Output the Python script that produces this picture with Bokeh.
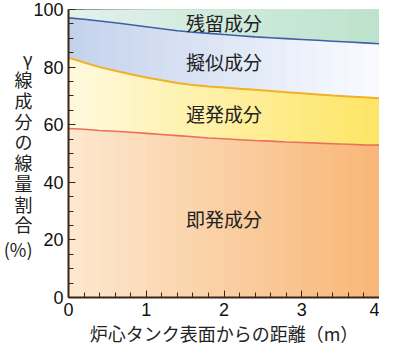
from bokeh.plotting import figure
from bokeh.models import Range1d, SingleIntervalTicker, Label, LinearAxis, FixedTicker
from bokeh.embed import file_html
from bokeh.resources import INLINE

# ---- data ----
distance = [0.0, 0.2, 0.4, 0.6, 0.8, 1.0, 1.2, 1.4, 1.6, 1.8, 2.0,
            2.2, 2.4, 2.6, 2.8, 3.0, 3.2, 3.4, 3.6, 3.8, 4.0]
# cumulative upper boundaries (%)
prompt_top = [58.7, 58.4, 58.0, 57.7, 57.4, 57.0, 56.6, 56.2, 55.8, 55.4, 55.1,
              54.8, 54.5, 54.3, 54.0, 53.8, 53.6, 53.4, 53.2, 53.0, 52.9]
delayed_top = [83.3, 81.6, 80.0, 78.7, 77.5, 76.4, 75.4, 74.5, 73.8, 73.3, 72.9,
               72.5, 72.1, 71.7, 71.3, 70.9, 70.5, 70.1, 69.8, 69.5, 69.2]
pseudo_top = [97.1, 96.6, 96.0, 95.4, 94.7, 94.0, 93.3, 92.6, 92.1, 91.7, 91.3,
              90.9, 90.5, 90.2, 89.9, 89.6, 89.3, 89.0, 88.7, 88.4, 88.1]
total_top = [100.0, 100.0, 100.0, 100.0, 100.0, 100.0, 100.0, 100.0, 100.0, 100.0, 100.0,
             100.0, 100.0, 100.0, 100.0, 100.0, 100.0, 100.0, 100.0, 100.0, 100.0]
bottom = [0.0] * len(distance)

component_names = ["即発成分", "遅発成分", "擬似成分", "残留成分"]
y_title_parts = ["γ", "線", "成", "分", "の", "線", "量", "割", "合", "(%)"]
x_title = "炉心タンク表面からの距離（m）"

# ---- figure ----
p = figure(width=379, height=348, output_backend="svg", toolbar_location=None,
           x_range=Range1d(0, 4), y_range=Range1d(0, 100),
           min_border_left=10, min_border_right=0, min_border_top=9, min_border_bottom=0)
p.background_fill_color = "white"
p.border_fill_color = "white"
p.outline_line_color = "#555555"
p.outline_line_width = 1
p.grid.visible = False


def mix(c1, c2, t):
    return "#%02x%02x%02x" % tuple(int(round(a + (b - a) * t)) for a, b in zip(c1, c2))


layers = [
    (bottom, prompt_top, (253, 232, 208), (248, 182, 118)),
    (prompt_top, delayed_top, (255, 250, 222), (253, 229, 100)),
    (delayed_top, pseudo_top, (195, 210, 236), (250, 251, 255)),
    (pseudo_top, total_top, (226, 242, 236), (189, 226, 204)),
]
n = len(distance)
for lower, upper, cl, cr in layers:
    for i in range(n - 1):
        t = (i + 0.5) / (n - 1)
        p.varea(x=distance[i:], y1=lower[i:], y2=upper[i:], fill_color=mix(cl, cr, t))

p.line(distance, prompt_top, line_color="#ee6e5c", line_width=1.6)
p.line(distance, delayed_top, line_color="#f2b124", line_width=2)
p.line(distance, pseudo_top, line_color="#3f5fa9", line_width=1.6)

# component labels, placed mid-band at x = 2
mid = distance.index(2.0)
bands = [(bottom, prompt_top), (prompt_top, delayed_top), (delayed_top, pseudo_top), (pseudo_top, total_top)]
for name, (lo, hi) in zip(component_names, bands):
    p.add_layout(Label(x=2.0, y=(lo[mid] + hi[mid]) / 2, text=name, text_align="center",
                       text_baseline="middle", text_font="Noto Sans CJK JP",
                       text_font_size="19px", text_color="#222222"))

# axes
axis_col = "#3a2616"
p.xaxis.ticker = SingleIntervalTicker(interval=1, num_minor_ticks=5)
p.yaxis.ticker = SingleIntervalTicker(interval=20, num_minor_ticks=4)
for ax in (p.xaxis, p.yaxis):
    ax.axis_line_color = axis_col
    ax.axis_line_width = 2
    ax.major_tick_line_color = axis_col
    ax.minor_tick_line_color = axis_col
    ax.major_tick_in = 7
    ax.major_tick_out = 0
    ax.minor_tick_in = 5
    ax.minor_tick_out = 0
    ax.major_label_text_font = "Liberation Sans"
    ax.major_label_text_font_size = "18px"
    ax.major_label_text_color = "#111111"

p.yaxis.major_label_standoff = 5
p.xaxis.major_label_standoff = 5
p.xaxis.axis_label = x_title
p.xaxis.axis_label_text_font = "Noto Sans CJK JP"
p.xaxis.axis_label_text_font_size = "18px"
p.xaxis.axis_label_text_font_style = "normal"
p.xaxis.axis_label_text_color = "#222222"
p.xaxis.axis_label_standoff = 1

# vertical y-axis title, drawn as horizontal labels of an extra left axis
title_pos = [round(83.0 - 7.2 * i, 1) for i in range(len(y_title_parts) - 1)] + [17.0]
tax = LinearAxis(ticker=FixedTicker(ticks=title_pos, minor_ticks=[]),
                 major_label_overrides={pos: s for pos, s in zip(title_pos, y_title_parts)})
tax.axis_line_color = None
tax.major_tick_line_color = None
tax.minor_tick_line_color = None
tax.major_tick_in = 0
tax.major_tick_out = 0
tax.major_label_standoff = -2
tax.major_label_text_font = "Noto Sans CJK JP"
tax.major_label_text_font_size = "18px"
tax.major_label_text_color = "#222222"
p.add_layout(tax, "left")

open("out.html", "w").write(file_html(p, INLINE))
